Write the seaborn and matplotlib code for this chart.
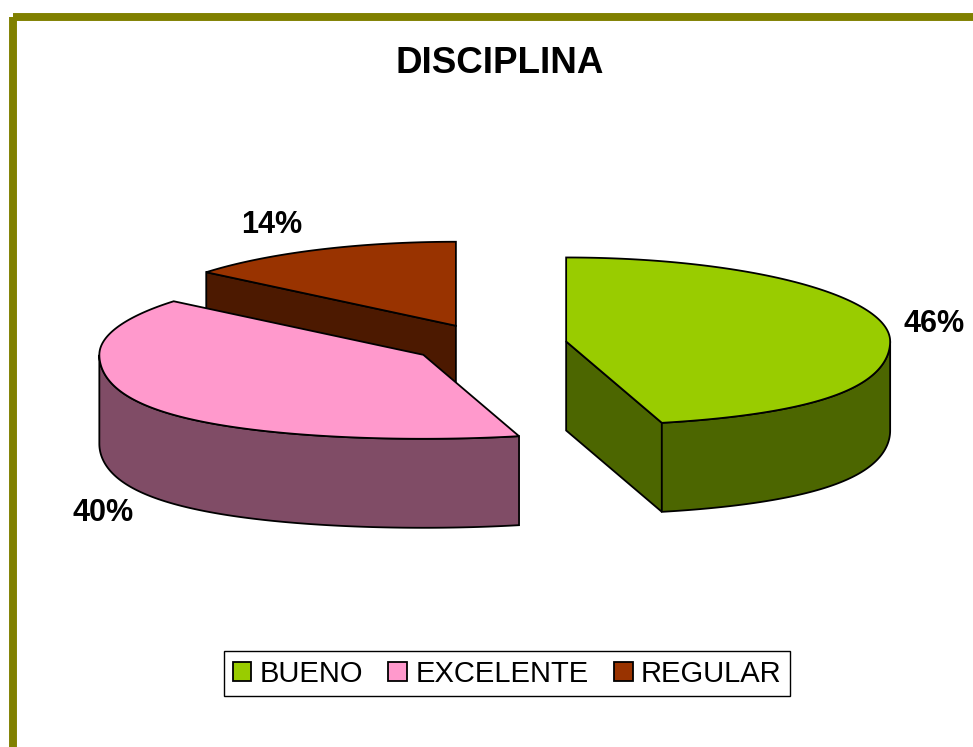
import numpy as np
import matplotlib.pyplot as plt
import seaborn as sns
from matplotlib.patches import Polygon, Rectangle, Patch

# Data
categories = ['BUENO', 'EXCELENTE', 'REGULAR']
percent = [46, 40, 14]
top_colors = ['#99CC00', '#FF99CC', '#993300']
side_colors = ['#4C6600', '#804C66', '#4C1900']

sns.set_style('white')
plt.rcParams['font.family'] = ['Liberation Sans', 'DejaVu Sans']
plt.rcParams['text.color'] = 'black'

fig = plt.figure(figsize=(9.73, 7.47), dpi=100)
ax = fig.add_axes([0, 0, 1, 1])
ax.set_xlim(0, 973)
ax.set_ylim(747, 0)
ax.axis('off')

# olive chart frame
ax.add_patch(Rectangle((12.8, 16.7), 1200, 1000, fill=False, edgecolor='#808000',
                       linewidth=5.7, joinstyle='round', zorder=1))

# 3d pie geometry (pixels)
cx, cy = 489, 344
rx, ry = 324, 84
depth = 89
explode = 0.24
persp = 0.2  # front of the pie looks a little wider


def pt(c, ang, z=0, warp=True):
    a = np.radians(ang)
    s = np.sin(a)
    sx = 1 + persp * s * s if (warp and s < 0) else 1.0
    return c[0] + rx * np.cos(a) * sx, c[1] - ry * s + z


def arc(c, a0, a1, z=0, n=200):
    angs = np.linspace(a0, a1, n)
    return [pt(c, a, z) for a in angs]


fracs = np.array(percent) / np.sum(percent)
slices = []
start = 90.0
for i, f in enumerate(fracs):
    t1 = start
    t2 = start - 360 * f
    mid = (t1 + t2) / 2
    m = np.radians(mid)
    c = (cx + explode * rx * np.cos(m), cy - explode * ry * np.sin(m))
    slices.append((i, t1, t2, mid, c))
    start = t2

# back slices first
order = sorted(slices, key=lambda s: -np.sin(np.radians(s[3])))
z = 2
for i, t1, t2, mid, c in order:
    lw = 1.3
    # radial cut faces facing the viewer
    for ang, vis in ((t1, np.cos(np.radians(t1)) < -1e-6),
                     (t2, np.cos(np.radians(t2)) > 1e-6)):
        if vis:
            p0, p1 = c, pt(c, ang)
            poly = [p0, p1, (p1[0], p1[1] + depth), (p0[0], p0[1] + depth)]
            ax.add_patch(Polygon(poly, closed=True, facecolor=side_colors[i],
                                 edgecolor='black', linewidth=lw, zorder=z))
    # outer curved side, front half only
    for lo, hi in ((-180, 0), (180, 360), (-540, -360)):
        a0, a1 = max(t2, lo), min(t1, hi)
        if a1 > a0:
            poly = arc(c, a0, a1) + arc(c, a1, a0, depth)
            ax.add_patch(Polygon(poly, closed=True, facecolor=side_colors[i],
                                 edgecolor='black', linewidth=lw, zorder=z))
    # top face
    poly = [c] + arc(c, t1, t2)
    ax.add_patch(Polygon(poly, closed=True, facecolor=top_colors[i],
                         edgecolor='black', linewidth=lw, zorder=z + 0.5))
    z += 1

# percentage labels
for i, t1, t2, mid, c in slices:
    s, co = np.sin(np.radians(mid)), np.cos(np.radians(mid))
    x, y = pt(c, mid, depth if s < 0 else 0, warp=False)
    x += 16 * np.sign(co)
    y += -18 * s - (5 if abs(s) < 0.3 else 0)
    ha = 'left' if co > 0 else 'right'
    va = 'center' if abs(s) < 0.3 else ('baseline' if s > 0 else 'top')
    ax.text(x, y, f'{percent[i]}%', ha=ha, va=va, fontsize=22,
            fontweight='bold', zorder=20)

ax.text(499.5, 73.3, 'DISCIPLINA', ha='center', va='baseline', fontsize=26.5,
        fontweight='bold')

handles = [Patch(facecolor=top_colors[i], edgecolor='black', linewidth=1.3)
           for i in range(len(categories))]
leg = ax.legend(handles, categories, loc='center', bbox_to_anchor=(507, 673.5),
                bbox_transform=ax.transData, ncol=3, fontsize=21,
                frameon=True, fancybox=False, framealpha=1, edgecolor='black',
                handlelength=0.65, handleheight=0.65, handletextpad=0.28,
                columnspacing=0.86, borderpad=0.3, borderaxespad=0)
leg.get_frame().set_linewidth(1.0)

fig.savefig('out.png', dpi=100)
